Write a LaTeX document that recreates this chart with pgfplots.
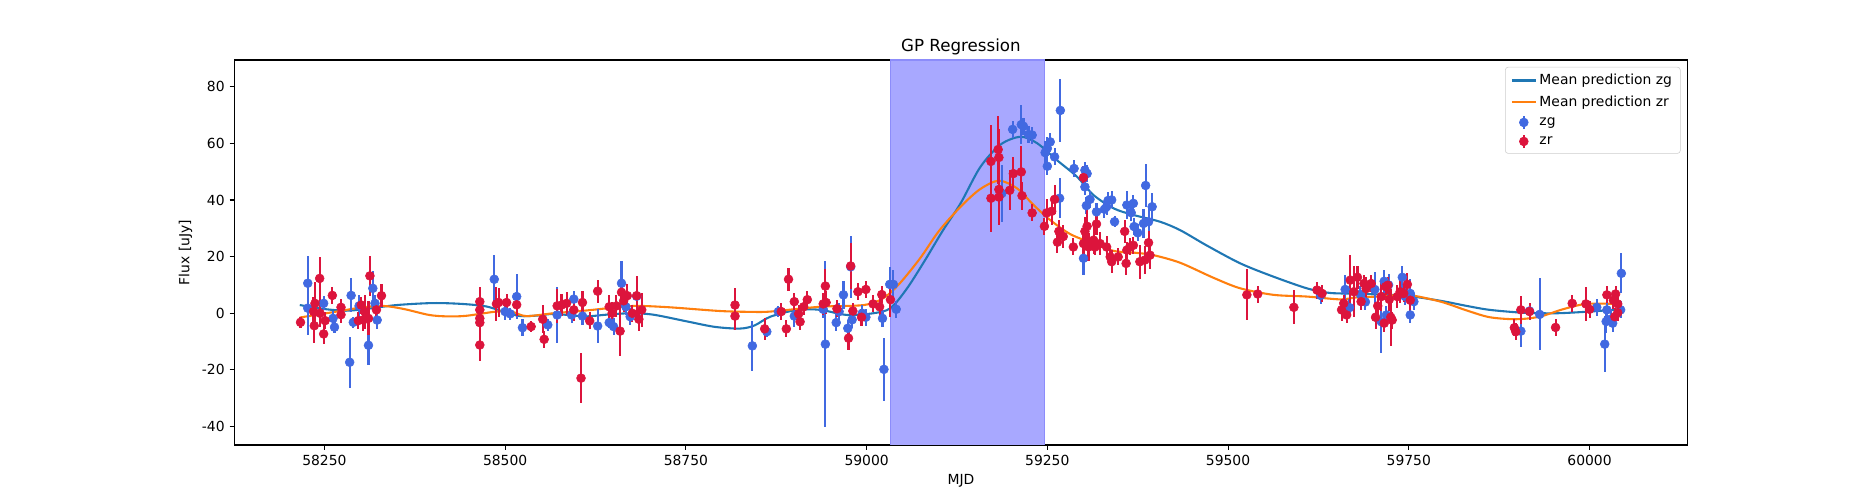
\documentclass[border=0pt]{standalone}
\usepackage{fontspec}
\setmainfont{DejaVu Sans}
\usepackage{pgfplots}
\usepackage{pgfplotstable}
\pgfplotsset{compat=1.18}
\definecolor{cZero}{RGB}{31,119,180}
\definecolor{cOne}{RGB}{255,127,14}
\definecolor{royal}{RGB}{65,105,225}
\definecolor{crim}{RGB}{220,20,60}
\definecolor{shade}{RGB}{168,168,255}
\definecolor{shadeedge}{RGB}{140,140,250}
\definecolor{leggray}{RGB}{204,204,204}

\pgfplotstableread{
x y
58216 2.9
58250 1.5
58280 0.9
58310 1.6
58350 2.9
58400 3.6
58440 3.3
58474 2.4
58502 0.2
58521 -1.0
58545 -0.8
58567 -0.2
58590 -0.7
58613 -1.1
58640 -0.5
58673 0.0
58705 -0.5
58752 -2.9
58790 -4.8
58825 -5.4
58845 -4.3
58867 -1.2
58904 1.2
58936 1.2
58973 -0.6
59009 0.0
59033 1.8
59056 8.8
59081 18.8
59105 29.0
59130 38.8
59157 51.5
59185 59.5
59213 62.3
59236 60.0
59263 54.1
59291 48.2
59314 41.7
59342 37.0
59369 34.7
59406 32.3
59434 29.3
59470 24.0
59517 17.6
59563 12.9
59609 8.8
59637 7.3
59655 7.0
59701 6.7
59748 6.1
59794 4.4
59830 2.6
59862 1.2
59908 0.2
59954 0.0
60000 0.6
60044 1.4
}\meanzg

\pgfplotstableread{
x y
58216 -1.5
58267 0.6
58300 2.0
58331 2.6
58360 1.5
58395 -0.6
58420 -1.1
58446 -0.9
58488 0.6
58510 0.5
58529 -1.0
58567 0.0
58613 1.0
58650 2.0
58682 2.6
58728 2.1
58797 0.8
58839 0.5
58867 0.6
58936 2.3
58996 2.9
59023 5.3
59046 10.6
59074 19.4
59100 29.0
59130 37.6
59157 43.8
59183 46.8
59208 44.1
59231 38.2
59254 32.9
59282 27.9
59314 24.6
59342 22.0
59374 21.3
59397 20.5
59434 17.8
59480 12.5
59517 8.8
59563 6.5
59609 5.9
59655 4.9
59678 5.6
59710 5.9
59748 6.5
59794 4.1
59830 1.0
59862 -1.4
59899 -2.1
59931 -1.2
59963 1.4
59995 3.3
60035 3.3
}\meanzr

\pgfplotstableread{
x y e
58227 10.6 9.6
58227 1.8 9.4
58249 3.5 2.5
58262 -1.8 2.5
58264 -4.9 2
58285 -17.3 9
58287 6.3 6
58290 -3.2 2
58298 2.6 4
58311 -11.3 7
58317 8.8 6
58320 3.5 3
58323 -2.4 3
58485 12 8.4
58500 0.6 3
58507 -0.2 2
58516 5.9 8
58524 -5.1 3
58559 -4.1 2
58572 -0.6 10
58595 5 3
58592 -0.6 3
58607 -1 3
58628 -4.5 6
58644 -3.3 2
58650 -4.7 3
58661 10.6 8
58667 2.3 3
58673 -1.2 3
58682 6 4
58842 -11.5 8.9
58862 -6.5 2
58878 0.6 2
58900 -1 4
58940 1.4 3
58943 -10.9 29.4
58958 -3.3 3
58962 0.6 3
58968 6.5 5
58974 -5.3 3
58978 16.4 11
58980 -2.3 3
58994 0 3
58999 -1.4 3
59022 -1.8 3
59024 -19.8 11
59032 10.2 6
59037 10.2 5
59041 1.4 3
59187 42.3 10
59202 64.9 3
59214 66.6 7
59217 66 3
59224 63.1 3
59229 62.9 3
59247 56.7 4
59250 58.2 4
59254 60.5 3
59250 51.9 3
59260 55.2 3
59268 71.6 11
59267 40.6 7
59287 51.1 3
59302 50.5 3
59305 49.3 3
59302 44.6 3
59300 19.4 6
59309 40.2 3
59318 35.8 3
59304 38 3
59329 36.7 3
59334 39.8 3
59339 40 3
59332 37.6 3
59343 32.3 2
59360 38.2 5
59369 38.8 3
59366 35.5 3
59370 30.6 3
59375 28.4 3
59386 45.1 7.5
59383 31.7 5
59390 32.3 5
59395 37.6 5
59628 6.3 3
59662 8.4 5
59668 2 3
59683 6.7 3
59690 4 3
59703 8.4 6
59716 11.3 4
59722 10 4
59719 -0.6 3
59712 -3 11
59741 12.7 4
59745 5.9 3
59752 7 5
59757 4.1 3
59752 -0.6 3
59905 -6.3 5.6
59917 0.8 3
59931 -0.4 12.7
60010 2.1 3
60021 -10.9 10
60024 1.2 3
60023 -2.9 4
60030 -2 3
60032 -3.5 3
60043 1.2 3
60044 14.1 7
}\zg

\pgfplotstableread{
x y e
58217 -3.2 2
58243.5 12.3 7.5
58237 3.5 7.5
58235 0.6 5
58236 -4.4 6
58244 0 5
58249 -7.3 3.5
58251 -2.6 3
58261 6.3 3
58273 2.1 3
58273 -0.5 3
58297 -2.6 3
58301 2.9 3
58306 0.6 6
58304 -2.3 4
58311 -1.8 6
58313 13.2 7
58322 1.2 4
58329 6.2 4
58465 4.1 5
58465 1.2 5
58465 -1.8 5
58465 -3.3 5
58465 -11.2 5.6
58488 3.3 6
58491 3.8 5
58502 3.8 3
58516 3 4
58536 -4.7 2
58552 -2.1 5
58554 -9.2 3
58572 2.6 6
58578 2.9 4
58585 3.5 4
58595 1.2 4
58605 -22.9 8.7
58607 3.8 4
58617 -2.7 3
58628 7.8 4
58644 2.3 4
58648 0 4
58654 2.6 4
58659 -6.3 8.7
58661 7.4 4
58664 4.4 4
58669 6.2 4
58676 0 3
58682 6.2 7
58685 -2.1 4
58689 1.2 6
58818 2.9 6
58818 -1 5
58859 -5.5 4
58882 0.6 3
58892 12 4
58889 -5.5 3
58900 4.1 3
58906 -0.2 3
58908 -3 3
58913 2.3 3
58918 4.8 3
58940 3.3 4
58943 9.6 6
58944 3.8 4
58959 1.6 3
58975 -8.8 4
58978 16.7 8
58981 0.8 3
58988 7.6 3
58993 -1.4 3
58999 8.4 3
59009 3.3 3
59018 2.3 3
59021 6.6 3
59033 4.8 6
59172 53.6 13
59172 40.6 12
59182 57.8 12
59183 55 10
59183 43.7 10
59183 41 10
59198 43.4 7
59203 49.3 6
59214 49.9 9
59215 41.5 5
59229 35.4 3
59246 30.7 3
59249 35.4 5
59256 36 5
59260 40.2 5
59266 28.9 4
59264 25.1 4
59272 27.1 4
59286 23.4 3
59300 47.9 4
59302 28.9 5
59305 30.7 6
59300 24.6 5
59307 23.4 5
59314 25.8 5
59318 31.5 4
59316 23.4 3
59323 24.6 4
59332 23.4 4
59337 19.9 3
59339 18.2 4
59348 19.9 3
59357 28.9 4
59359 17.6 4
59360 22.3 3
59364 23.4 3
59369 24 3
59378 18.2 6
59385 18.8 5
59390 24.9 4
59392 20.5 5
59526 6.5 9
59541 6.8 3
59591 2.1 6
59623 8.2 3
59630 7 3
59660 3.5 3
59657 1.2 4
59664 -0.6 3
59669 11.7 9
59674 7.6 9
59679 12.7 4
59684 4.1 3
59688 10.5 3
59691 8.7 4
59698 10.5 3
59704 -1.4 4
59707 2.6 3
59712 5.9 5
59716 -3.5 3
59718 9.4 3
59721 9.9 3
59723 4.9 4
59725 -1.4 10
59727 -2.4 3
59734 5.9 4
59738 7.6 4
59743 7 3
59748 10.2 4
59752 4.6 4
59896 -5.1 3
59898 -6.5 3
59905 1.2 5
59917 0.6 3
59953 -5 3
59976 3.5 3
59995 3.3 6
60000 1.4 3
60024 6.5 3
60036 6.8 3
60033 4.6 3
60039 3.3 3
60039 0.2 3
60035 -1.2 3
}\zr

\begin{document}
\begin{tikzpicture}
\path[use as bounding box] (-168.75pt,-39.6pt) rectangle (1181.25pt,320.4pt);
\begin{axis}[
  at={(0,0)}, anchor=south west,
  scale only axis,
  width=1046.25pt, height=277.2pt,
  xmin=58125.5, xmax=60135.5,
  ymin=-46.5, ymax=89.4,
  xtick={58250,58500,58750,59000,59250,59500,59750,60000},
  ytick={-40,-20,0,20,40,60,80},
  scaled x ticks=false, scaled y ticks=false,
  xticklabel style={/pgf/number format/.cd, fixed, precision=0, 1000 sep={}, assume math mode=true},
  yticklabel style={/pgf/number format/.cd, fixed, precision=0, 1000 sep={}, assume math mode=true},
  tick align=outside,
  xtick pos=bottom, ytick pos=left,
  major tick length=3.5pt,
  every tick/.style={black, line width=0.8pt},
  axis line style={line width=0.8pt},
  tick label style={font=\fontsize{10}{12}\selectfont},
  label style={font=\fontsize{10}{12}\selectfont},
  xlabel={MJD}, ylabel={Flux [uJy]},
  title={GP Regression},
  title style={font=\fontsize{12}{14}\selectfont, yshift=-6pt},
  legend style={at={(1,1)}, anchor=north east, xshift=-5pt, yshift=-5pt,
    draw=leggray, rounded corners=2pt, fill=white,
    font=\fontsize{10}{12}\selectfont, cells={anchor=west},
    inner xsep=4pt, inner ysep=3pt, row sep=2.5pt},
  legend cell align=left,
]
\addplot[draw=shadeedge, fill=shade, line width=1pt, forget plot]
  coordinates {(59033,-46.5) (59033,89.4) (59246,89.4) (59246,-46.5)};
\addplot[cZero, line width=1.5pt, smooth, no marks] table[x=x,y=y] {\meanzg};
\addlegendentry{Mean prediction zg}
\addplot[cOne, line width=1.5pt, smooth, no marks] table[x=x,y=y] {\meanzr};
\addlegendentry{Mean prediction zr}
\addplot[royal, only marks, mark=*, mark size=3.2pt,
  mark options={draw=royal, fill=royal},
  legend image code/.code={\draw[royal, line width=1.5pt] (0.3cm,-0.17cm) -- (0.3cm,0.17cm); \fill[royal] (0.3cm,0cm) circle (3.2pt);},
  error bars/.cd, y dir=both, y explicit, error mark=none,
  error bar style={line width=1.5pt, royal}]
  table[x=x, y=y, y error=e] {\zg};
\addlegendentry{zg}
\addplot[crim, only marks, mark=*, mark size=3.2pt,
  mark options={draw=crim, fill=crim},
  legend image code/.code={\draw[crim, line width=1.5pt] (0.3cm,-0.17cm) -- (0.3cm,0.17cm); \fill[crim] (0.3cm,0cm) circle (3.2pt);},
  error bars/.cd, y dir=both, y explicit, error mark=none,
  error bar style={line width=1.5pt, crim}]
  table[x=x, y=y, y error=e] {\zr};
\addlegendentry{zr}
\end{axis}
\end{tikzpicture}
\end{document}
